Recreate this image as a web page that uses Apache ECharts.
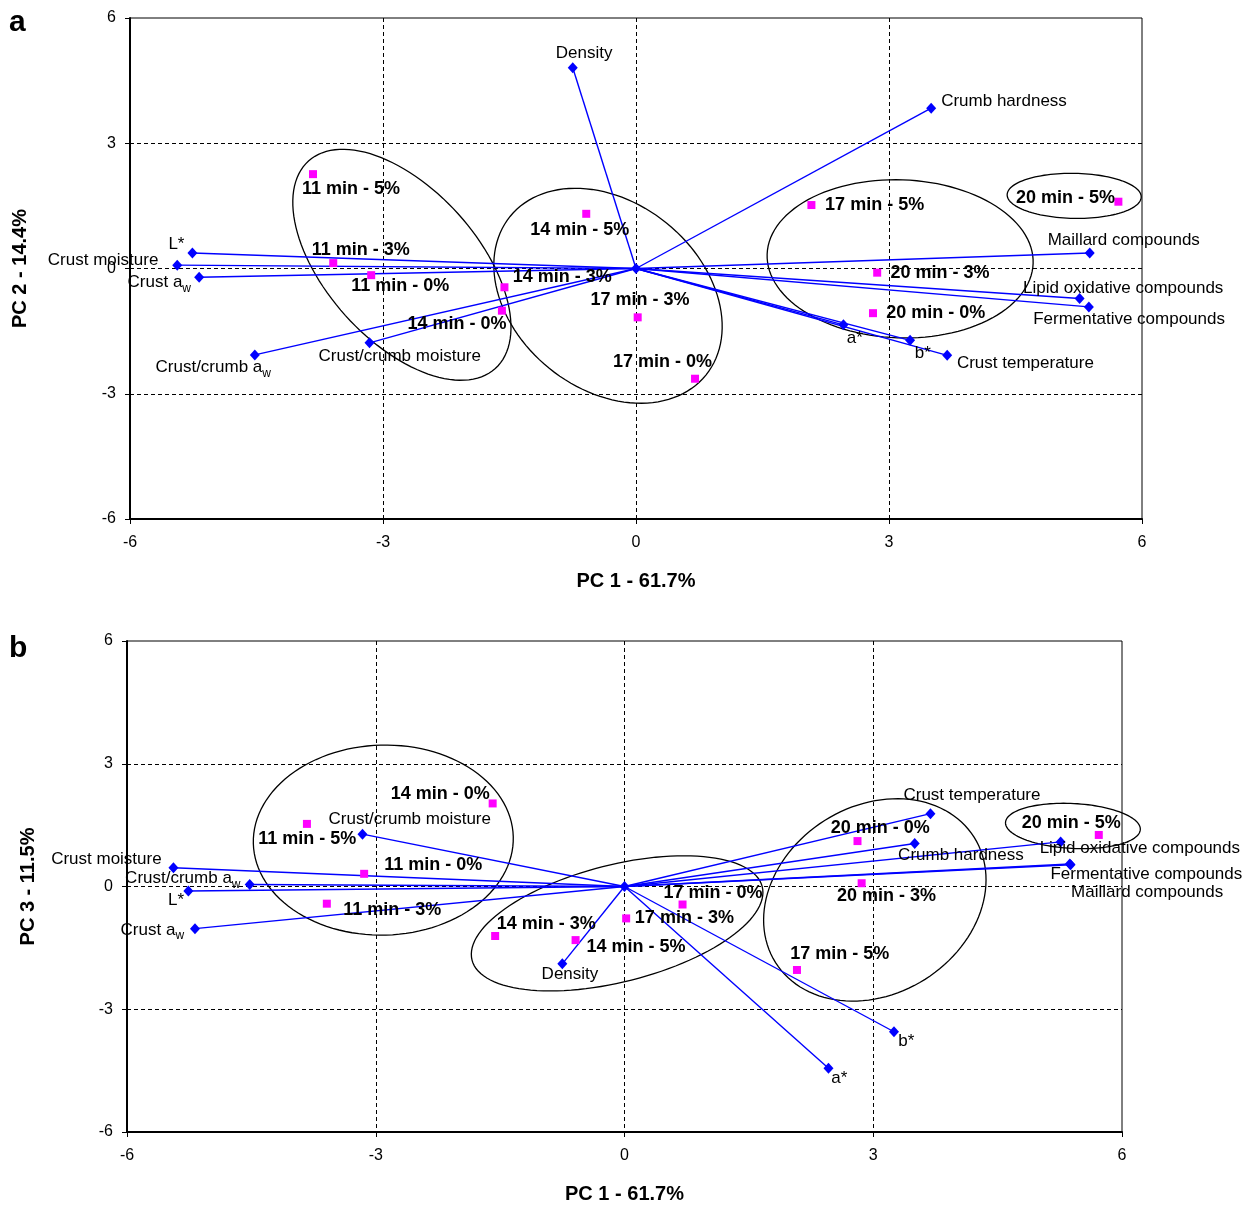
<!DOCTYPE html>
<html><head><meta charset="utf-8">
<script src="https://cdn.jsdelivr.net/npm/echarts@6/dist/echarts.min.js"></script>
<style>html,body{margin:0;padding:0;background:#fff}#c{width:1248px;height:1205px}</style>
</head><body><div id="c"></div>
<script>
// ---- data ----
const tickValues = [-6, -3, 0, 3, 6];
const variables = ['Density','Crumb hardness','Maillard compounds','Lipid oxidative compounds','Fermentative compounds','a*','b*','Crust temperature','L*','Crust moisture','Crust a_w','Crust/crumb a_w','Crust/crumb moisture'];
const loadPC1 = [-0.75, 3.50, 5.38, 5.26, 5.37, 2.46, 3.25, 3.69, -5.26, -5.44, -5.18, -4.52, -3.16];
const loadPC2 = [4.81, 3.84, 0.37, -0.72, -0.92, -1.35, -1.72, -2.08, 0.37, 0.08, -0.21, -2.07, -1.78];
const loadPC3 = [-1.89, 1.05, 0.53, 1.09, 0.55, -4.44, -3.55, 1.78, -0.11, 0.46, -1.03, 0.05, 1.28];
const samples = ['11 min - 0%','11 min - 3%','11 min - 5%','14 min - 0%','14 min - 3%','14 min - 5%','17 min - 0%','17 min - 3%','17 min - 5%','20 min - 0%','20 min - 3%','20 min - 5%'];
const scorePC1 = [-3.14, -3.59, -3.83, -1.59, -1.56, -0.59, 0.70, 0.02, 2.08, 2.81, 2.86, 5.72];
const scorePC2 = [-0.16, 0.13, 2.26, -1.01, -0.45, 1.31, -2.64, -1.17, 1.52, -1.07, -0.10, 1.60];
const scorePC3 = [0.31, -0.42, 1.53, 2.03, -1.21, -1.31, -0.44, -0.78, -2.04, 1.11, 0.08, 1.26];
const origin = [0, 0];
// group ellipses: [centre PC1, centre PCy, semi-axis a, semi-axis b (in PC1 units), screen angle deg]
const ellipsesA = [[-2.776, 0.089, 1.655, 0.900, 48], [-0.332, -0.653, 1.494, 1.107, 39], [3.132, 0.232, 1.578, 0.937, 2], [5.196, 1.74, 0.795, 0.267, 1]];
const ellipsesB = [[-2.909, 1.134, 1.568, 1.146, -1.5], [-0.089, -0.901, 1.805, 0.706, -14.2], [3.019, -0.328, 1.416, 1.133, -32.3], [5.408, 1.479, 0.814, 0.271, 3]];

// ---- label layout (pixel offsets, left edge / vertical centre) ----
const varOffA = [[-17,-14.4],[10,-7.3],[-42,-12.6],[-56.6,-10.7],[-55.7,12],[3.4,13.3],[4.7,12.6],[9.7,7.6],[-24,-8.3],[-129.4,-5.3],[-71.6,5.4],[-99.3,12.4],[-51,13]];
const varOffB = [[-20.7,10.3],[-16.6,11.7],[0.5,27.4],[-21,6.6],[-19.3,10],[2.7,10],[4.3,9.3],[-27,-18.3],[-20.4,9.4],[-122.3,-8],[-74.4,1.4],[-124.6,-5.7],[-34,-15]];
const smpOffA = [[-20,11],[-21.6,-12.6],[-11,15],[-94.4,13],[8.4,-10.6],[-56,16],[-82,-16.3],[-47.3,-17.7],[13.7,0],[13.3,0],[13.3,0],[-102.3,-3.4]];
const smpOffB = [[20,-8.3],[16.3,6.7],[-48.6,15.3],[-102,-9],[1.6,-11.7],[11,6.6],[-19,-11],[8.7,0],[-6.7,-15.7],[-26.7,-12.7],[-24.7,12.4],[-77,-11.7]];

const FONT = 'Liberation Sans, Arial, Helvetica, sans-serif';
const chart = echarts.init(document.getElementById('c'), null, {renderer: 'canvas'});

const splitStyle = {show: true, showMinLine: false, showMaxLine: false, lineStyle: {color: '#000', type: [4, 3], width: 1}};
function axisX(gi, gapName) {
  return {
    gridIndex: gi, type: 'value', min: -6, max: 6, interval: 3,
    name: 'PC 1 - 61.7%', nameLocation: 'middle', nameGap: gapName,
    nameTextStyle: {fontFamily: FONT, fontWeight: 'bold', fontSize: 20, color: '#000'},
    axisLine: {onZero: false, lineStyle: {color: '#000', width: 2}},
    axisTick: {show: true, length: 5, lineStyle: {color: '#000'}},
    axisLabel: {fontFamily: FONT, fontSize: 16, color: '#000', margin: 16},
    splitLine: splitStyle
  };
}
function axisY(gi, name, gapName) {
  return {
    gridIndex: gi, type: 'value', min: -6, max: 6, interval: 3,
    name: name, nameLocation: 'middle', nameGap: gapName, nameRotate: 90,
    nameTextStyle: {fontFamily: FONT, fontWeight: 'bold', fontSize: 20, color: '#000'},
    axisLine: {onZero: false, lineStyle: {color: '#000', width: 2}},
    axisTick: {show: true, length: 5, lineStyle: {color: '#000'}},
    axisLabel: {fontFamily: FONT, fontSize: 16, color: '#000', margin: 14},
    splitLine: splitStyle
  };
}

function ellipseSeries(idx, list) {
  return {
    type: 'custom', xAxisIndex: idx, yAxisIndex: idx, z: 2, silent: true,
    data: list,
    renderItem: function (params, api) {
      const c = api.coord([api.value(0), api.value(1)]);
      const unit = api.size([1, 0])[0];
      const a = api.value(2) * unit, b = api.value(3) * unit;
      const th = api.value(4) * Math.PI / 180;
      const pts = [];
      for (let i = 0; i < 120; i++) {
        const t = i / 120 * Math.PI * 2;
        const ex = a * Math.cos(t), ey = b * Math.sin(t);
        pts.push([c[0] + ex * Math.cos(th) - ey * Math.sin(th), c[1] + ex * Math.sin(th) + ey * Math.cos(th)]);
      }
      return {type: 'polygon', shape: {points: pts}, style: {fill: 'none', stroke: '#000', lineWidth: 1.3}};
    }
  };
}
function vectorSeries(idx, xs, ys) {
  return {
    type: 'custom', xAxisIndex: idx, yAxisIndex: idx, z: 3, silent: true,
    data: xs.map((x, i) => [x, ys[i]]),
    renderItem: function (params, api) {
      const p0 = api.coord(origin);
      const p1 = api.coord([api.value(0), api.value(1)]);
      return {type: 'line', shape: {x1: p0[0], y1: p0[1], x2: p1[0], y2: p1[1]}, style: {stroke: '#0000ff', lineWidth: 1.4}};
    }
  };
}
const richSub = {w: {fontFamily: FONT, fontSize: 12, lineHeight: 12, verticalAlign: 'bottom', color: '#000'}};
function varSeries(idx, xs, ys, offs) {
  return {
    type: 'scatter', xAxisIndex: idx, yAxisIndex: idx, z: 5, silent: true,
    symbol: 'diamond', symbolSize: [10, 11],
    itemStyle: {color: '#0000ff', opacity: 1},
    data: xs.map((x, i) => ({
      value: [x, ys[i]], name: variables[i],
      label: {offset: offs[i]}
    })),
    label: {
      show: true, position: 'inside', align: 'left', verticalAlign: 'middle',
      fontFamily: FONT, fontSize: 17, color: '#000', lineHeight: 24, textBorderWidth: 0,
      formatter: p => p.name.replace('_w', '{w|w}'),
      rich: richSub
    }
  };
}
function sampleSeries(idx, xs, ys, offs) {
  return {
    type: 'scatter', xAxisIndex: idx, yAxisIndex: idx, z: 4, silent: true,
    symbol: 'rect', symbolSize: 8,
    itemStyle: {color: '#ff00ff', opacity: 1},
    data: xs.map((x, i) => ({
      value: [x, ys[i]], name: samples[i],
      label: {offset: offs[i]}
    })),
    label: {
      show: true, position: 'inside', align: 'left', verticalAlign: 'middle',
      fontFamily: FONT, fontSize: 18, fontWeight: 'bold', color: '#000', textBorderWidth: 0,
      formatter: p => p.name
    }
  };
}
function originSeries(idx) {
  return {
    type: 'scatter', xAxisIndex: idx, yAxisIndex: idx, z: 5, silent: true,
    symbol: 'diamond', symbolSize: [10, 11], itemStyle: {color: '#0000ff', opacity: 1},
    data: [origin]
  };
}

const option = {
  backgroundColor: '#fff',
  animation: false,
  grid: [
    {left: 130, top: 18, width: 1012, height: 501, show: true, borderColor: '#000', borderWidth: 1, containLabel: false},
    {left: 127, top: 641, width: 995, height: 494, show: true, borderColor: '#000', borderWidth: 1, containLabel: false}
  ],
  xAxis: [axisX(0, 52), axisX(1, 52)],
  yAxis: [axisY(0, 'PC 2 - 14.4%', 100), axisY(1, 'PC 3 - 11.5%', 89)],
  graphic: [
    {type: 'text', left: 9, top: 8, style: {text: 'a', fontFamily: FONT, fontWeight: 'bold', fontSize: 30, fill: '#000'}},
    {type: 'text', left: 9, top: 634, style: {text: 'b', fontFamily: FONT, fontWeight: 'bold', fontSize: 30, fill: '#000'}}
  ],
  series: [
    ellipseSeries(0, ellipsesA),
    vectorSeries(0, loadPC1, loadPC2),
    sampleSeries(0, scorePC1, scorePC2, smpOffA),
    varSeries(0, loadPC1, loadPC2, varOffA),
    originSeries(0),
    ellipseSeries(1, ellipsesB),
    vectorSeries(1, loadPC1, loadPC3),
    sampleSeries(1, scorePC1, scorePC3, smpOffB),
    varSeries(1, loadPC1, loadPC3, varOffB),
    originSeries(1)
  ]
};
chart.setOption(option);
</script>
</body></html>
